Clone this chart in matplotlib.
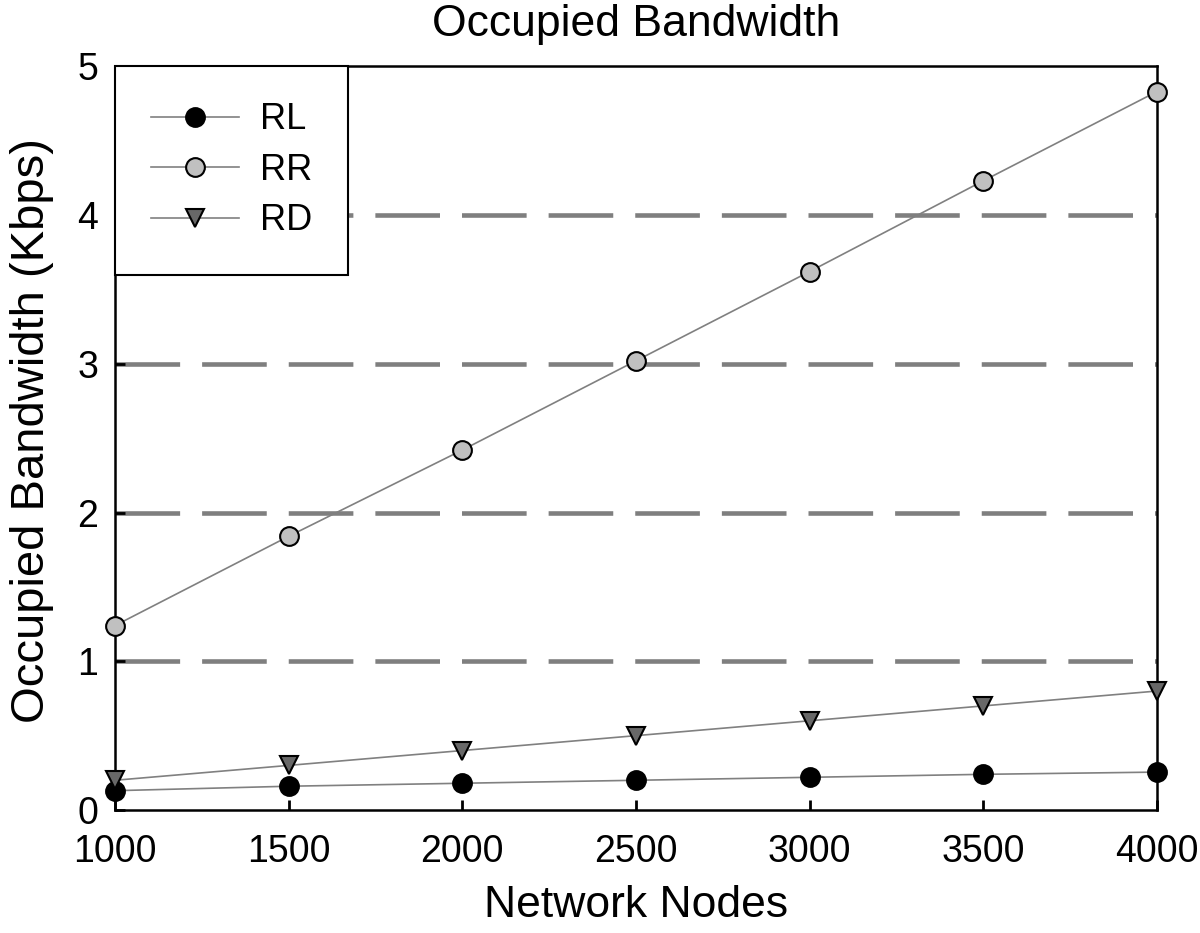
import numpy as np
import matplotlib.pyplot as plt

plt.rcParams['font.family'] = ['Liberation Sans', 'DejaVu Sans']

nodes = [1000, 1500, 2000, 2500, 3000, 3500, 4000]
rl = [0.13, 0.16, 0.18, 0.20, 0.22, 0.24, 0.255]
rr = [1.24, 1.84, 2.42, 3.02, 3.62, 4.23, 4.83]
rd = [0.20, 0.30, 0.40, 0.50, 0.60, 0.70, 0.80]
grid_levels = [1, 2, 3, 4]

fig = plt.figure(figsize=(12, 9.33), dpi=100)
ax = fig.add_axes([0.0958, 0.1318, 0.8684, 0.7972])

# dashed reference lines (dash ~65px, gap ~22px)
for g in grid_levels:
    ax.axhline(g, color='#7f7f7f', lw=3.3, ls=(0, (14.1, 4.8)), zorder=1)

line_kw = dict(color='#808080', lw=1.2, markeredgecolor='black', markeredgewidth=1.5, zorder=3, clip_on=False)
ax.plot(nodes, rl, marker='o', markersize=13.5, markerfacecolor='black', label='RL', **line_kw)
ax.plot(nodes, rr, marker='o', markersize=13.5, markerfacecolor='#c0c0c0', label='RR', **line_kw)
ax.plot(nodes, rd, marker='v', markersize=13.5, markerfacecolor='#686868', label='RD', **line_kw)

ax.set_xlim(1000, 4000)
ax.set_ylim(0, 5)
ax.set_xticks(nodes)
ax.set_yticks([0, 1, 2, 3, 4, 5])
ax.tick_params(direction='in', length=7, width=2, labelsize=27)
ax.tick_params(axis='x', pad=17)
ax.tick_params(axis='y', pad=12)
for s in ax.spines.values():
    s.set_linewidth(1.8)

ax.set_title('Occupied Bandwidth', fontsize=32, pad=22)
ax.set_xlabel('Network Nodes', fontsize=32, labelpad=11)
ax.set_ylabel('Occupied Bandwidth (Kbps)', fontsize=34, labelpad=17, y=0.51)

leg = ax.legend(loc='upper left', fontsize=26, borderaxespad=0, fancybox=False,
                edgecolor='black', framealpha=1, borderpad=1.0, handlelength=2.44,
                labelspacing=0.43, handletextpad=0.58)
leg.get_frame().set_linewidth(1.5)

fig.savefig('out.png', dpi=100)
